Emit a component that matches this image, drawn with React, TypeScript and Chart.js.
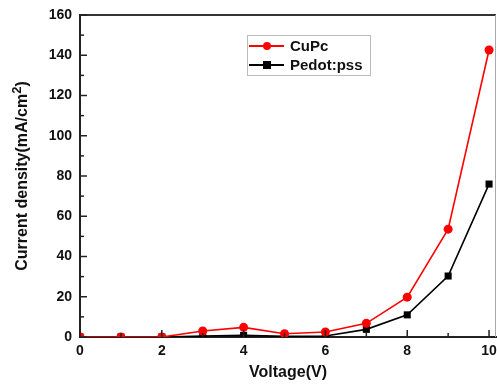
import React, { useEffect, useRef } from "react";
import { Chart, registerables } from "chart.js";

Chart.register(...registerables);

const voltage = [0, 1, 2, 3, 4, 5, 6, 7, 8, 9, 10];
const cupc = [0, 0, 0, 3.0, 4.8, 1.6, 2.5, 6.8, 19.8, 53.6, 142.6];
const pedot = [0, 0, 0, 0.5, 0.8, 0.3, 0.5, 3.8, 11.0, 30.3, 76.0];
const xTicks = [0, 2, 4, 6, 8, 10];
const yTicks = [0, 20, 40, 60, 80, 100, 120, 140, 160];
const xLabel = "Voltage(V)";
const yLabelMain = "Current density(mA/cm";
const yLabelSup = "2";
const yLabelEnd = ")";
const seriesNames = ["CuPc", "Pedot:pss"];

const FONT = "'Liberation Sans', Arial, sans-serif";

const decorPlugin = {
  id: "decor",
  afterDraw(chart: any) {
    const ctx = chart.ctx;
    const xs = chart.scales.x;
    const ys = chart.scales.y;
    const ca = chart.chartArea;
    ctx.save();
    // top border and right border
    ctx.strokeStyle = "#333";
    ctx.lineWidth = 2;
    ctx.beginPath();
    ctx.moveTo(ca.left, ca.top);
    ctx.lineTo(ca.right, ca.top);
    ctx.stroke();
    ctx.strokeStyle = "#aaa";
    ctx.lineWidth = 1;
    ctx.beginPath();
    ctx.moveTo(ca.right - 0.5, ca.top);
    ctx.lineTo(ca.right - 0.5, ca.bottom);
    ctx.stroke();
    // inner ticks
    ctx.strokeStyle = "#222";
    ctx.lineWidth = 1.5;
    for (let v = 0; v <= 10; v += 1) {
      const px = xs.getPixelForValue(v);
      const len = v % 2 === 0 ? 7 : 4;
      ctx.beginPath();
      ctx.moveTo(px, ca.bottom);
      ctx.lineTo(px, ca.bottom - len);
      ctx.stroke();
    }
    for (let v = 0; v <= 160; v += 10) {
      const py = ys.getPixelForValue(v);
      const len = v % 20 === 0 ? 7 : 4;
      ctx.beginPath();
      ctx.moveTo(ca.left, py);
      ctx.lineTo(ca.left + len, py);
      ctx.stroke();
    }
    // x title
    ctx.fillStyle = "#111";
    ctx.font = `bold 16px ${FONT}`;
    ctx.textAlign = "center";
    ctx.textBaseline = "middle";
    ctx.fillText(xLabel, 288, 373);
    // y title with superscript
    ctx.translate(23, (ca.top + ca.bottom) / 2);
    ctx.rotate(-Math.PI / 2);
    ctx.font = `bold 16px ${FONT}`;
    const wMain = ctx.measureText(yLabelMain).width;
    ctx.font = `bold 13px ${FONT}`;
    const wSup = ctx.measureText(yLabelSup).width;
    ctx.font = `bold 16px ${FONT}`;
    const wEnd = ctx.measureText(yLabelEnd).width;
    const total = wMain + wSup + wEnd;
    let x0 = -total / 2;
    ctx.textAlign = "left";
    ctx.fillText(yLabelMain, x0, 0);
    ctx.font = `bold 13px ${FONT}`;
    ctx.fillText(yLabelSup, x0 + wMain, -6);
    ctx.font = `bold 16px ${FONT}`;
    ctx.fillText(yLabelEnd, x0 + wMain + wSup, 0);
    ctx.restore();

    // legend
    ctx.save();
    ctx.strokeStyle = "#bbb";
    ctx.lineWidth = 1;
    ctx.strokeRect(247.5, 35.5, 123, 40);
    const entries = [
      { name: seriesNames[0], color: "#ff0000", y: 46, shape: "circle" },
      { name: seriesNames[1], color: "#000000", y: 65, shape: "square" },
    ];
    entries.forEach((e) => {
      ctx.strokeStyle = e.color;
      ctx.lineWidth = 2;
      ctx.beginPath();
      ctx.moveTo(249, e.y);
      ctx.lineTo(284, e.y);
      ctx.stroke();
      ctx.fillStyle = e.color;
      if (e.shape === "circle") {
        ctx.beginPath();
        ctx.arc(267, e.y, 4, 0, Math.PI * 2);
        ctx.fill();
      } else {
        ctx.fillRect(263, e.y - 4, 8, 8);
      }
      ctx.fillStyle = "#111";
      ctx.font = `bold 15px ${FONT}`;
      ctx.textAlign = "left";
      ctx.textBaseline = "middle";
      ctx.fillText(e.name, 290, e.y + 1);
    });
    ctx.restore();
  },
};

export default function App() {
  const ref = useRef<HTMLCanvasElement | null>(null);
  useEffect(() => {
    if (!ref.current) return;
    const chart = new Chart(ref.current, {
      type: "line",
      data: {
        datasets: [
          {
            label: seriesNames[0],
            data: voltage.map((v, i) => ({ x: v, y: cupc[i] })),
            borderColor: "#ff0000",
            backgroundColor: "#ff0000",
            borderWidth: 1.6,
            pointStyle: "circle",
            pointRadius: 4.5,
            pointBorderWidth: 0,
          },
          {
            label: seriesNames[1],
            data: voltage.map((v, i) => ({ x: v, y: pedot[i] })),
            borderColor: "#000000",
            backgroundColor: "#000000",
            borderWidth: 1.6,
            pointStyle: "rect",
            pointRadius: 5,
            pointBorderWidth: 0,
          },
        ],
      },
      options: {
        animation: false,
        responsive: true,
        maintainAspectRatio: false,
        layout: { autoPadding: false, padding: { top: 15, right: 1, left: 0, bottom: 0 } },
        plugins: { legend: { display: false }, tooltip: { enabled: false } },
        scales: {
          x: {
            type: "linear",
            min: 0,
            max: 10.17,
            afterBuildTicks: (s: any) => {
              s.ticks = xTicks.map((v) => ({ value: v }));
            },
            afterFit: (s: any) => {
              s.height = 54;
              s.paddingRight = 0;
              s.paddingLeft = 0;
            },
            grid: { display: false, drawTicks: true, tickLength: 6 },
            border: { display: true, color: "#222", width: 2 },
            ticks: {
              color: "#111",
              font: { family: FONT, size: 14, weight: "bold" },
              padding: 0,
              maxRotation: 0,
              autoSkip: false,
            },
          },
          y: {
            type: "linear",
            min: 0,
            max: 160,
            afterBuildTicks: (s: any) => {
              s.ticks = yTicks.map((v) => ({ value: v }));
            },
            afterFit: (s: any) => {
              s.width = 80;
              s.paddingTop = 0;
              s.paddingBottom = 0;
            },
            grid: { display: false, drawTicks: true, tickLength: 8 },
            border: { display: true, color: "#222", width: 2 },
            ticks: {
              color: "#111",
              font: { family: FONT, size: 14, weight: "bold" },
              padding: 0,
              autoSkip: false,
            },
          },
        },
      },
      plugins: [decorPlugin],
    } as any);
    return () => chart.destroy();
  }, []);
  return (
    <div style={{ position: "fixed", left: 0, top: 0, width: 497, height: 391, background: "#fff" }}>
      <canvas ref={ref} />
    </div>
  );
}
